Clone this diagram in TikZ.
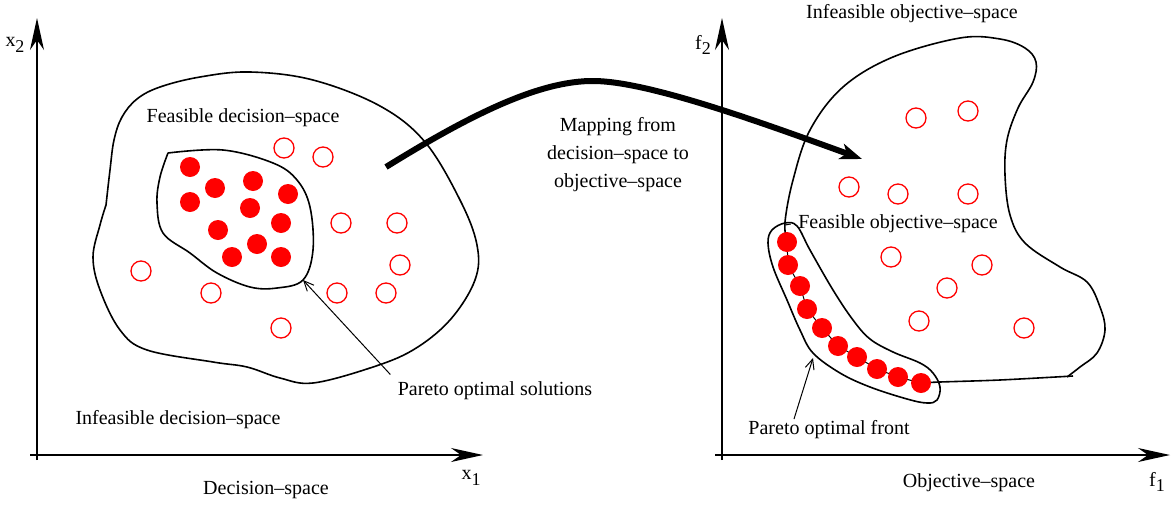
\documentclass[tikz,border=0pt]{standalone}
\usepackage{fontspec}
\setmainfont{Liberation Serif}
\usetikzlibrary{arrows.meta}
\newcommand\lowsub[1]{\raisebox{-0.6ex}{\fontsize{9}{9}\selectfont #1}}
\begin{document}
\begin{tikzpicture}[x=0.5pt, y=-0.5pt, line width=0.8pt,
  font=\fontsize{10}{12}\selectfont,
  axis/.style={line width=0.75pt, -{Stealth[length=16pt, width=7pt, inset=5pt]}},
  border/.style={line width=0.8pt},
  pointer/.style={line width=0.5pt, -{Straight Barb[length=5pt, width=4.5pt]}},
  mapping/.style={line width=3pt, -{Stealth[length=11pt, width=8pt, inset=3pt]}},
  good/.style={fill=red},
  other/.style={draw=red, line width=0.65pt}]
\def\r{5pt}
\useasboundingbox (0,0) rectangle (1172,504);
% decision space
\begin{scope}
  \draw[axis] (37,460) -- (37,18);
  \draw[axis] (30,455) -- (483,455);
  \node (x2) at (15,45) {x\lowsub{2}};
  \node (x1) at (471,478) {x\lowsub{1}};
  \node (decspace) at (266,490) {Decision--space};
  \node (infeasdec) at (178,420) {Infeasible decision--space};
  \node (feasdec) at (243,118) {Feasible decision--space};
  \draw[border] plot[smooth, tension=0.6] coordinates {(106,205) (110,170) (114,140)
    (122,117) (137,99) (160,87) (200,77) (250,72) (313,80) (380,106) (425,142)
    (460,200) (477,245) (475,280) (450,320) (413,350) (370,368) (313,383) (280,378)
    (247,367) (213,362) (147,350) (120,330) (100,290) (93,257) (100,225) (106,205)};
  \draw[border] plot[smooth, tension=0.6] coordinates {(168,153) (223,150) (273,163)
    (297,180) (310,207) (313,250) (303,280) (277,288) (250,287) (217,273) (190,253)
    (163,233) (157,203) (160,177) (168,153)};
  \foreach \p in {(190,167), (215,188), (253,181), (288,194), (190,202), (250,208),
    (281,223), (218,230), (257,244), (232,257), (281,257)}
    \fill[good] \p circle (\r);
  \foreach \p in {(284,148), (323,157), (341,223), (397,223), (400,265), (141,271),
    (211,293), (337,293), (386,293), (281,328)}
    \draw[other] \p circle (\r);
  \node (paretosol) at (495,391) {Pareto optimal solutions};
  \coordinate (soltip) at (303,280);
  \draw[pointer] (paretosol.north west) -- (soltip);
\end{scope}
% mapping
\node[align=center, font=\fontsize{10}{14}\selectfont] (mapping) at (618,155)
  {Mapping from\\decision--space to\\objective--space};
\coordinate (mapfrom) at (386,167);
\coordinate (mapto) at (862,159);
\draw[mapping] (mapfrom) .. controls (470,115) and (540,80) .. (595,81)
  .. controls (650,82) and (760,122) .. (mapto);
% objective space
\begin{scope}
  \draw[axis] (722,460) -- (722,18);
  \draw[axis] (715,455) -- (1170,455);
  \node (f2) at (703,45) {f\lowsub{2}};
  \node (f1) at (1157,482) {f\lowsub{1}};
  \node (objspace) at (969,483) {Objective--space};
  \node (infeasobj) at (912,14) {Infeasible objective--space};
  \draw[border] plot[smooth, tension=0.6] coordinates {(787,242) (785,222) (793,180)
    (810,130) (843,87) (893,57) (960,38) (1000,39) (1025,48) (1036,62) (1033,82)
    (1018,108) (1007,140) (1005,175) (1010,215) (1025,243) (1060,267) (1087,282)
    (1100,307) (1105,330) (1097,353) (1080,367) (1067,377)};
  \draw[border] plot[smooth] coordinates {(1073,376) (1000,380) (940,382) (921,383)};
  \draw[border] plot[smooth cycle, tension=0.6] coordinates {(772,230) (785,223)
    (797,226) (810,250) (833,290) (853,320) (870,339) (893,352) (920,363) (933,373)
    (940,387) (937,400) (927,403) (907,399) (870,387) (840,373) (813,353) (800,330)
    (787,300) (773,267) (768,243)};
  \draw[line width=0.5pt] (787,242) -- (788,265) -- (800,286) -- (807,309) -- (822,328)
    -- (838,346) -- (857,357) -- (877,369) -- (898,377) -- (921,383);
  \foreach \p in {(787,242), (788,265), (800,286), (807,309), (822,328), (838,346),
    (857,357), (877,369), (898,377), (921,383)}
    \fill[good] \p circle (\r);
  \foreach \p in {(916,118), (968,111), (849,187), (898,194), (968,194), (891,257),
    (982,265), (947,288), (919,321), (1024,328)}
    \draw[other] \p circle (\r);
  \node (feasobj) at (898,224) {Feasible objective--space};
  \coordinate (feasfoot) at (785,225);
  \draw[line width=0.5pt] (feasobj.west) -- (feasfoot);
  \node (paretofront) at (829,430) {Pareto optimal front};
  \coordinate (frontfoot) at (794,419);
  \coordinate (fronttip) at (813,358);
  \draw[pointer] (frontfoot) -- (fronttip);
\end{scope}
\end{tikzpicture}
\end{document}
